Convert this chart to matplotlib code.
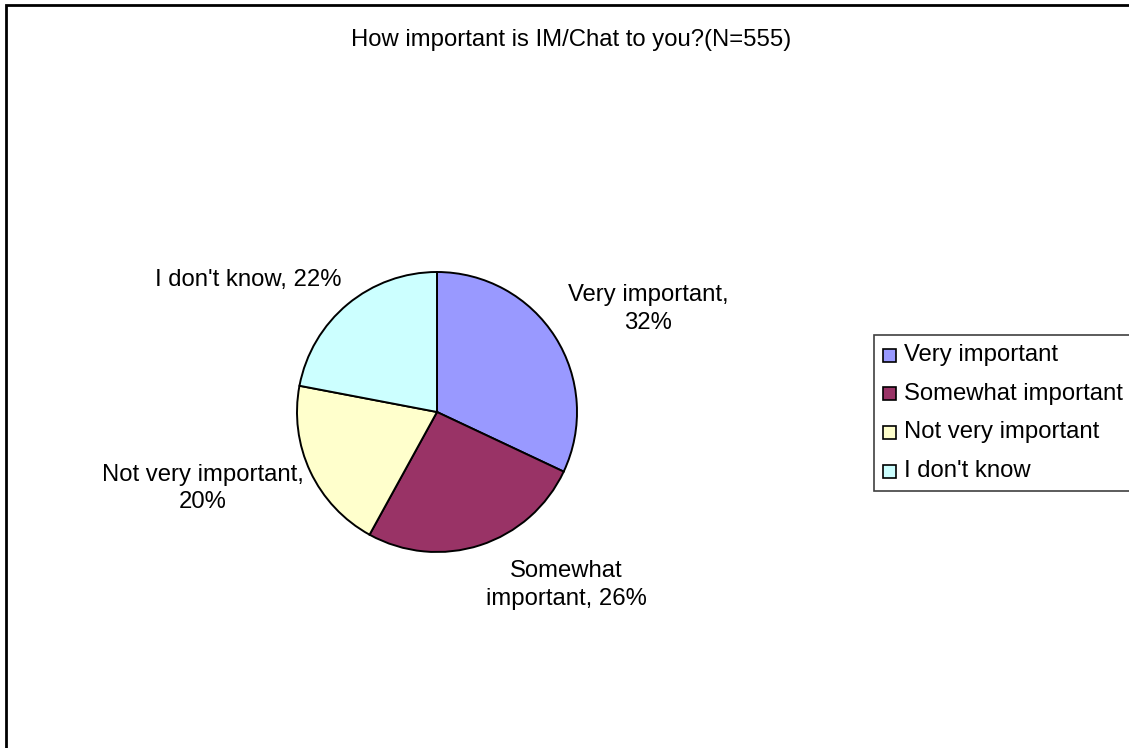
import matplotlib
matplotlib.use("Agg")
import matplotlib.pyplot as plt
from matplotlib.patches import Rectangle

plt.rcParams['font.family'] = ['Liberation Sans', 'DejaVu Sans']

categories = ["Very important", "Somewhat important", "Not very important", "I don't know"]
percent = [32, 26, 20, 22]
colors = ["#9999FF", "#993366", "#FFFFCC", "#CCFFFF"]
title = "How important is IM/Chat to you?(N=555)"

W, H = 1129, 748
FS = 17.2

fig = plt.figure(figsize=(W / 100, H / 100), dpi=100)
ax = fig.add_axes([0, 0, 1, 1])


def Y(y):
    """Convert a top-down pixel row into the axes' bottom-up coordinate."""
    return H - y


ax.pie(percent, colors=colors, startangle=90, counterclock=False,
       center=(437, Y(412)), radius=140,
       wedgeprops=dict(edgecolor="black", linewidth=1.4))
ax.set_xlim(0, W)
ax.set_ylim(0, H)
ax.set_aspect("auto")
ax.axis("off")

# outer chart frame (continues past the right and bottom edges)
ax.add_patch(Rectangle((5.5, Y(1200)), 1500, 1200 - 4.5, fill=False,
                       edgecolor="black", linewidth=2.0, clip_on=True))

ax.text(571.5, Y(40), title, ha="center", va="center", fontsize=FS)

# data labels: category name and percentage, wrapped as in a spreadsheet chart
label_layout = [
    (648, Y(309), "{c},\n{v}%"),
    (566, Y(585), "Somewhat\nimportant, {v}%"),
    (203, Y(488.5), "{c},\n{v}%"),
    (248, Y(280), "{c}, {v}%"),
]
for cat, val, (x, y, fmt) in zip(categories, percent, label_layout):
    ax.text(x, y, fmt.format(c=cat, v=val), ha="center", va="center",
            fontsize=FS, linespacing=1.3)

# legend
ax.add_patch(Rectangle((873.5, Y(491)), 400, 491 - 335, facecolor="white",
                       edgecolor="#404040", linewidth=1.2))
row_y = [355, 393.5, 432, 471]
for cat, col, ry in zip(categories, colors, row_y):
    ax.add_patch(Rectangle((883, Y(ry + 6.5)), 13, 13, facecolor=col,
                           edgecolor="black", linewidth=1.2))
    ax.text(904, Y(ry), cat, ha="left", va="center", fontsize=FS)

fig.savefig("out.png", dpi=100)
